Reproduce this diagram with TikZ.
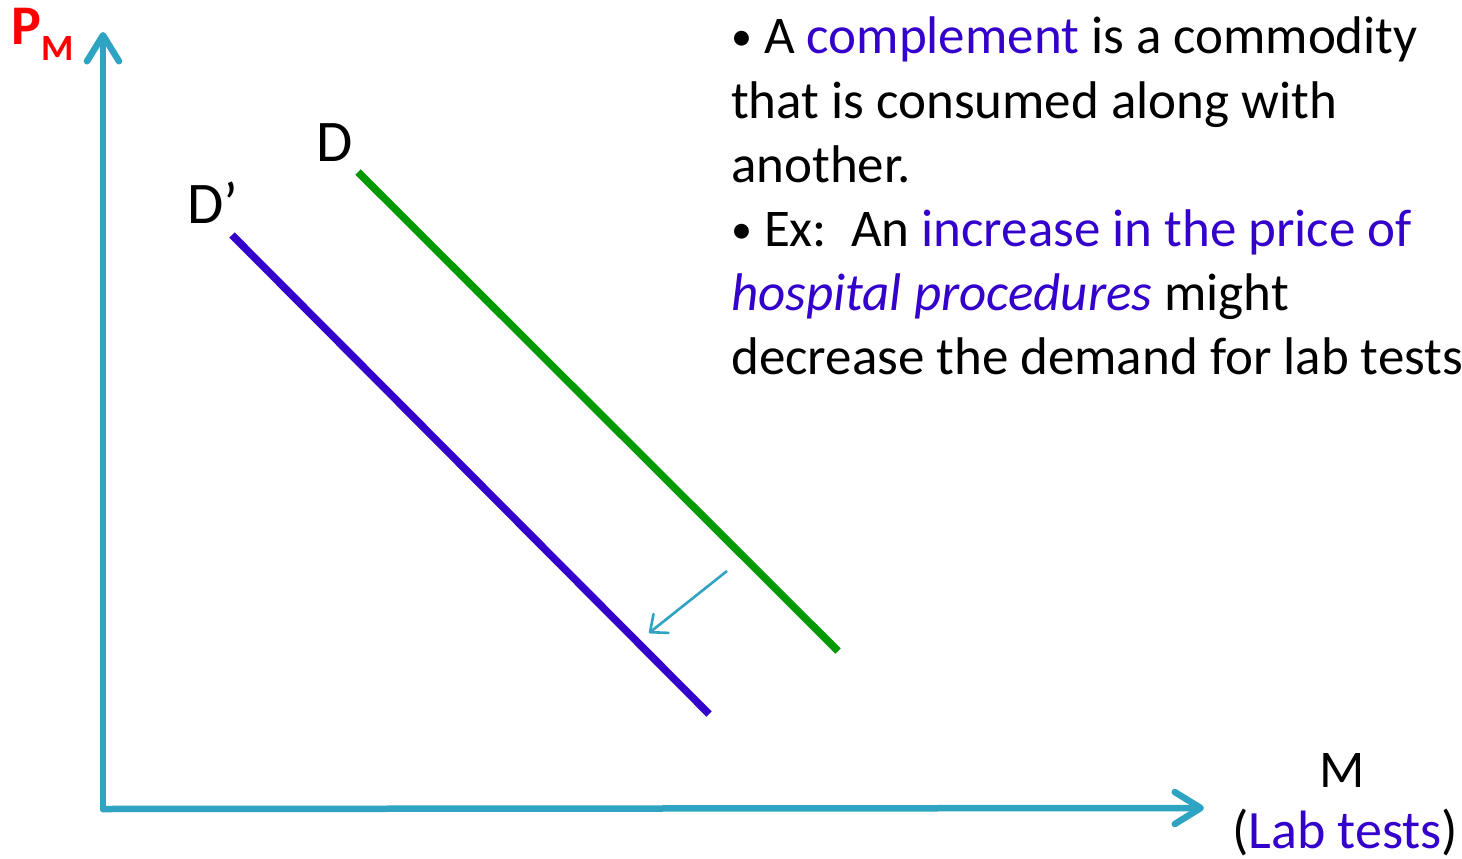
\documentclass[tikz,border=0pt]{standalone}
\usepackage{fontspec}
\setmainfont{Carlito}
\usetikzlibrary{arrows.meta}
\definecolor{axiscol}{RGB}{46,164,194}
\definecolor{purp}{RGB}{51,0,204}
\definecolor{grn}{RGB}{0,153,0}
\definecolor{redc}{RGB}{255,0,0}
\newcommand{\smbullet}{\raisebox{3pt}{\fontsize{42}{64}\selectfont\textbullet}}
\tikzset{
  axis/.style={draw=axiscol, line width=6.5pt, line cap=round,
    -{Straight Barb[length=26pt,width=32pt,line cap=round,line join=round]}},
  curve/.style={line width=7.5pt},
  shiftarrow/.style={draw=axiscol, line width=2.6pt,
    -{Straight Barb[length=14pt,width=24pt,line cap=round,line join=round]}},
  txt/.style={inner sep=0pt, anchor=base west, font=\fontsize{53}{64}\selectfont},
  lbl/.style={inner sep=0pt, anchor=base, font=\fontsize{59}{64}\selectfont}
}
\begin{document}
\begin{tikzpicture}[x=1pt,y=-1pt]
\clip (0,0) rectangle (1462,859);
\fill[white] (0,0) rectangle (1462,859);
% axes
\coordinate (origin) at (103,809);
\coordinate (ytip) at (103,32);
\coordinate (xtip) at (1204,808);
\draw[axis] (origin) -- (ytip);
\draw[axis] (origin) -- (xtip);
% curves
\coordinate (d1) at (358,172);
\coordinate (d2) at (838,651);
\coordinate (dp1) at (232,235);
\coordinate (dp2) at (709,714);
\draw[curve, grn] (d1) -- (d2);
\draw[curve, purp] (dp1) -- (dp2);
% shift arrow
\coordinate (sa) at (727,571);
\coordinate (sb) at (649,633);
\draw[shiftarrow] (sa) -- (sb);
% labels
\node[lbl] (Dlab) at (335,161) {D};
\node[lbl] (Dplab) at (213,223) {D’};
\node[inner sep=0pt, anchor=base west, text=redc, font=\fontsize{56}{60}\selectfont\bfseries] (P) at (11,45) {P};
\node[inner sep=0pt, anchor=base west, text=redc, font=\fontsize{37}{40}\selectfont\bfseries] (PM) at (41,61) {M};
\node[inner sep=0pt, anchor=base, font=\fontsize{53}{64}\selectfont] (Mlab) at (1342,787) {M};
\node[inner sep=0pt, anchor=base west, font=\fontsize{54}{64}\selectfont] (Lab) at (1232,848) {(\textcolor{purp}{Lab tests})};
% text block
\node[txt] (t1) at (731,54) {\smbullet\ A \textcolor{purp}{complement} is a commodity};
\node[txt] (t2) at (731,118) {that is consumed along with};
\node[txt] (t3) at (731,182) {another.};
\node[txt] (t4) at (731,246) {\smbullet\ Ex:\ \ An \textcolor{purp}{increase in the price of}};
\node[txt] (t5) at (731,310) {\textcolor{purp}{\itshape hospital procedures} might};
\node[txt] (t6) at (731,374) {decrease the demand for lab tests};
\end{tikzpicture}
\end{document}
